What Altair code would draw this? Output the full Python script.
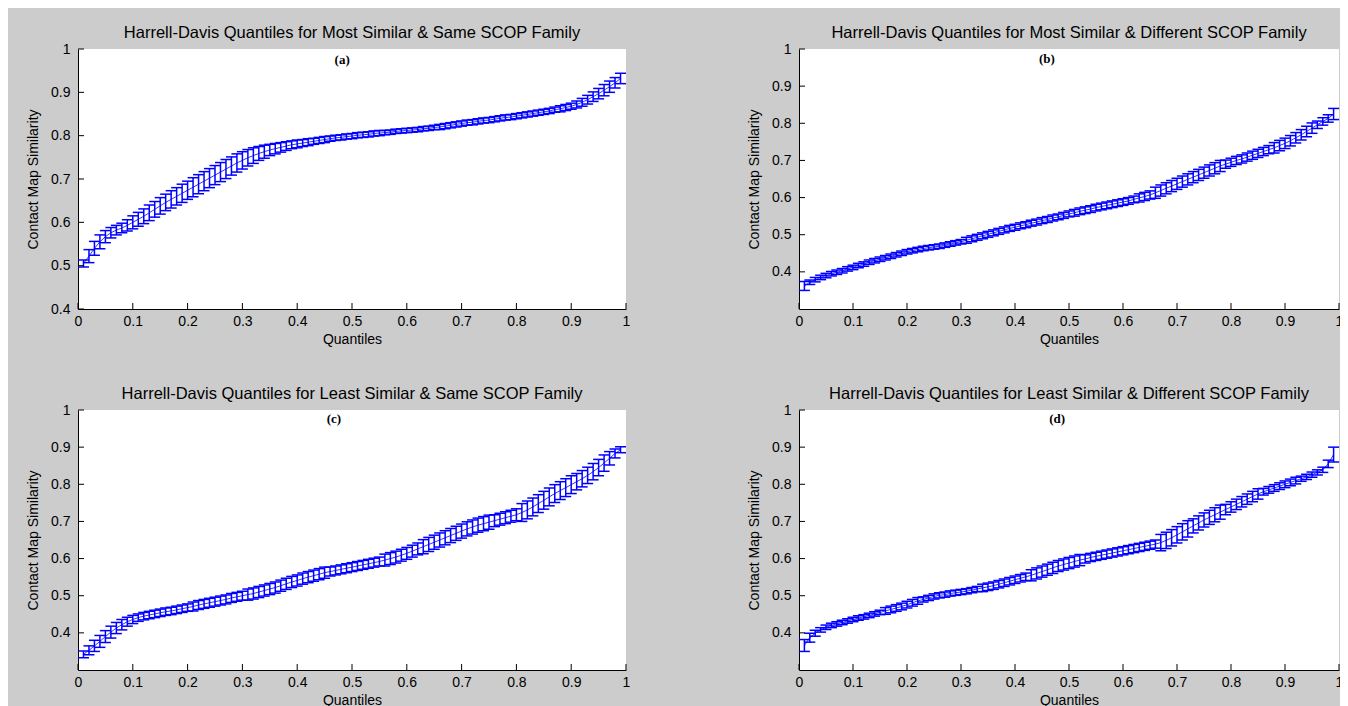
import altair as alt
import pandas as pd

BLUE = "#0000ff"
FONT = "Liberation Sans"

QUANT = [0.01, 0.02, 0.03, 0.04, 0.05, 0.06, 0.07, 0.08, 0.09, 0.10,
         0.11, 0.12, 0.13, 0.14, 0.15, 0.16, 0.17, 0.18, 0.19, 0.20,
         0.21, 0.22, 0.23, 0.24, 0.25, 0.26, 0.27, 0.28, 0.29, 0.30,
         0.31, 0.32, 0.33, 0.34, 0.35, 0.36, 0.37, 0.38, 0.39, 0.40,
         0.41, 0.42, 0.43, 0.44, 0.45, 0.46, 0.47, 0.48, 0.49, 0.50,
         0.51, 0.52, 0.53, 0.54, 0.55, 0.56, 0.57, 0.58, 0.59, 0.60,
         0.61, 0.62, 0.63, 0.64, 0.65, 0.66, 0.67, 0.68, 0.69, 0.70,
         0.71, 0.72, 0.73, 0.74, 0.75, 0.76, 0.77, 0.78, 0.79, 0.80,
         0.81, 0.82, 0.83, 0.84, 0.85, 0.86, 0.87, 0.88, 0.89, 0.90,
         0.91, 0.92, 0.93, 0.94, 0.95, 0.96, 0.97, 0.98, 0.99]

X_TICKS = [0, 0.1, 0.2, 0.3, 0.4, 0.5, 0.6, 0.7, 0.8, 0.9, 1]
Y_TICKS = [0.4, 0.5, 0.6, 0.7, 0.8, 0.9, 1]

TITLES = [
    "Harrell-Davis Quantiles for Most Similar & Same SCOP Family",
    "Harrell-Davis Quantiles for Most Similar & Different SCOP Family",
    "Harrell-Davis Quantiles for Least Similar & Same SCOP Family",
    "Harrell-Davis Quantiles for Least Similar & Different SCOP Family",
]
PANEL_LABELS = ["(a)", "(b)", "(c)", "(d)"]
PANEL_LABEL_X = [0.482, 0.459, 0.467, 0.478]
PANEL_LABEL_Y = [0.975, 0.973, 0.976, 0.976]
Y_DOMAINS = [[0.4, 1.0], [0.3, 1.0], [0.3, 1.0], [0.3, 1.0]]

mid_a = [0.505, 0.522, 0.540, 0.555, 0.567, 0.576, 0.582, 0.587, 0.593, 0.600,
         0.607, 0.614, 0.622, 0.630, 0.638, 0.646, 0.653, 0.660, 0.667, 0.674,
         0.681, 0.688, 0.695, 0.702, 0.709, 0.716, 0.723, 0.730, 0.737, 0.743,
         0.749, 0.754, 0.759, 0.763, 0.767, 0.770, 0.773, 0.776, 0.779, 0.781,
         0.783, 0.785, 0.787, 0.789, 0.791, 0.793, 0.795, 0.796, 0.798, 0.799,
         0.801, 0.802, 0.803, 0.805, 0.806, 0.807, 0.808, 0.810, 0.811, 0.812,
         0.813, 0.814, 0.816, 0.817, 0.819, 0.820, 0.822, 0.824, 0.826, 0.828,
         0.830, 0.831, 0.833, 0.835, 0.836, 0.838, 0.840, 0.842, 0.843, 0.845,
         0.847, 0.849, 0.851, 0.853, 0.855, 0.857, 0.860, 0.862, 0.865, 0.868,
         0.872, 0.877, 0.883, 0.890, 0.897, 0.905, 0.913, 0.922, 0.932]
err_a = [0.008, 0.015, 0.016, 0.016, 0.014, 0.012, 0.011, 0.011, 0.013, 0.015,
         0.016, 0.017, 0.018, 0.018, 0.019, 0.019, 0.020, 0.020, 0.021, 0.021,
         0.022, 0.022, 0.022, 0.022, 0.022, 0.022, 0.022, 0.021, 0.021, 0.020,
         0.019, 0.018, 0.016, 0.015, 0.013, 0.012, 0.011, 0.010, 0.009, 0.009,
         0.008, 0.008, 0.007, 0.007, 0.007, 0.006, 0.006, 0.006, 0.006, 0.006,
         0.006, 0.006, 0.006, 0.006, 0.006, 0.005, 0.005, 0.005, 0.005, 0.005,
         0.005, 0.005, 0.005, 0.005, 0.005, 0.006, 0.006, 0.006, 0.006, 0.006,
         0.006, 0.006, 0.006, 0.006, 0.006, 0.006, 0.006, 0.006, 0.006, 0.006,
         0.006, 0.006, 0.006, 0.006, 0.006, 0.006, 0.006, 0.007, 0.007, 0.007,
         0.008, 0.009, 0.010, 0.011, 0.012, 0.013, 0.013, 0.012, 0.012]

mid_b = [0.362, 0.372, 0.379, 0.385, 0.390, 0.395, 0.399, 0.403, 0.408, 0.412,
         0.417, 0.421, 0.426, 0.430, 0.434, 0.438, 0.442, 0.446, 0.450, 0.454,
         0.457, 0.460, 0.463, 0.465, 0.467, 0.469, 0.472, 0.475, 0.478, 0.481,
         0.485, 0.489, 0.493, 0.497, 0.501, 0.505, 0.509, 0.513, 0.517, 0.520,
         0.524, 0.527, 0.531, 0.534, 0.538, 0.541, 0.545, 0.548, 0.552, 0.556,
         0.559, 0.563, 0.566, 0.569, 0.573, 0.576, 0.579, 0.582, 0.585, 0.588,
         0.591, 0.595, 0.599, 0.603, 0.607, 0.613, 0.619, 0.625, 0.631, 0.637,
         0.643, 0.649, 0.655, 0.661, 0.667, 0.673, 0.679, 0.685, 0.690, 0.695,
         0.700, 0.704, 0.709, 0.714, 0.719, 0.724, 0.729, 0.734, 0.740, 0.746,
         0.753, 0.761, 0.769, 0.778, 0.787, 0.796, 0.805, 0.813, 0.825]
err_b = [0.012, 0.006, 0.006, 0.006, 0.006, 0.006, 0.006, 0.006, 0.006, 0.006,
         0.006, 0.006, 0.006, 0.006, 0.006, 0.006, 0.006, 0.006, 0.006, 0.006,
         0.006, 0.006, 0.006, 0.006, 0.006, 0.006, 0.006, 0.006, 0.006, 0.006,
         0.008, 0.008, 0.008, 0.008, 0.008, 0.008, 0.008, 0.008, 0.008, 0.008,
         0.008, 0.008, 0.008, 0.008, 0.008, 0.008, 0.008, 0.008, 0.008, 0.008,
         0.009, 0.009, 0.009, 0.009, 0.009, 0.009, 0.009, 0.009, 0.009, 0.009,
         0.009, 0.009, 0.011, 0.011, 0.011, 0.015, 0.015, 0.015, 0.015, 0.015,
         0.015, 0.015, 0.015, 0.015, 0.015, 0.015, 0.015, 0.015, 0.011, 0.011,
         0.011, 0.011, 0.011, 0.011, 0.011, 0.011, 0.011, 0.014, 0.014, 0.014,
         0.014, 0.014, 0.014, 0.014, 0.014, 0.010, 0.010, 0.010, 0.015]

mid_c = [0.342, 0.353, 0.365, 0.377, 0.390, 0.402, 0.413, 0.422, 0.430, 0.436,
         0.441, 0.445, 0.448, 0.451, 0.454, 0.457, 0.459, 0.462, 0.465, 0.468,
         0.471, 0.475, 0.478, 0.481, 0.484, 0.487, 0.490, 0.494, 0.497, 0.500,
         0.503, 0.506, 0.510, 0.514, 0.518, 0.522, 0.527, 0.532, 0.537, 0.541,
         0.546, 0.550, 0.554, 0.558, 0.562, 0.565, 0.568, 0.571, 0.574, 0.577,
         0.580, 0.583, 0.586, 0.589, 0.592, 0.596, 0.600, 0.604, 0.609, 0.614,
         0.620, 0.626, 0.632, 0.638, 0.644, 0.650, 0.656, 0.662, 0.668, 0.674,
         0.680, 0.685, 0.690, 0.694, 0.698, 0.702, 0.706, 0.710, 0.714, 0.718,
         0.724, 0.731, 0.739, 0.748, 0.757, 0.766, 0.775, 0.783, 0.791, 0.799,
         0.807, 0.815, 0.824, 0.834, 0.845, 0.857, 0.870, 0.883, 0.893]
err_c = [0.009, 0.012, 0.015, 0.016, 0.016, 0.016, 0.015, 0.014, 0.012, 0.011,
         0.010, 0.010, 0.010, 0.010, 0.010, 0.010, 0.010, 0.010, 0.010, 0.010,
         0.012, 0.012, 0.012, 0.012, 0.012, 0.012, 0.012, 0.012, 0.012, 0.012,
         0.015, 0.015, 0.015, 0.015, 0.015, 0.015, 0.015, 0.015, 0.015, 0.015,
         0.015, 0.015, 0.015, 0.015, 0.015, 0.012, 0.012, 0.012, 0.012, 0.012,
         0.012, 0.012, 0.012, 0.012, 0.012, 0.016, 0.016, 0.016, 0.016, 0.016,
         0.016, 0.016, 0.019, 0.019, 0.019, 0.019, 0.019, 0.019, 0.019, 0.019,
         0.019, 0.019, 0.019, 0.019, 0.019, 0.016, 0.016, 0.016, 0.016, 0.016,
         0.024, 0.024, 0.024, 0.024, 0.024, 0.024, 0.024, 0.024, 0.024, 0.024,
         0.022, 0.022, 0.022, 0.022, 0.022, 0.022, 0.018, 0.012, 0.008]

mid_d = [0.366, 0.387, 0.399, 0.408, 0.415, 0.420, 0.424, 0.428, 0.432, 0.436,
         0.440, 0.443, 0.447, 0.451, 0.455, 0.459, 0.463, 0.467, 0.471, 0.476,
         0.481, 0.486, 0.490, 0.494, 0.498, 0.501, 0.503, 0.506, 0.508, 0.510,
         0.512, 0.515, 0.518, 0.521, 0.524, 0.527, 0.531, 0.535, 0.539, 0.543,
         0.547, 0.551, 0.555, 0.560, 0.565, 0.570, 0.575, 0.580, 0.584, 0.588,
         0.592, 0.596, 0.599, 0.603, 0.606, 0.609, 0.612, 0.615, 0.618, 0.621,
         0.624, 0.627, 0.630, 0.633, 0.636, 0.639, 0.643, 0.649, 0.656, 0.664,
         0.672, 0.680, 0.688, 0.696, 0.704, 0.711, 0.718, 0.725, 0.732, 0.739,
         0.746, 0.753, 0.760, 0.767, 0.774, 0.780, 0.785, 0.790, 0.795, 0.800,
         0.805, 0.810, 0.815, 0.820, 0.826, 0.832, 0.839, 0.855, 0.880]
err_d = [0.016, 0.012, 0.008, 0.006, 0.006, 0.006, 0.006, 0.006, 0.006, 0.006,
         0.006, 0.006, 0.006, 0.006, 0.006, 0.009, 0.009, 0.009, 0.009, 0.009,
         0.009, 0.009, 0.007, 0.007, 0.007, 0.007, 0.007, 0.007, 0.007, 0.007,
         0.007, 0.007, 0.007, 0.010, 0.010, 0.010, 0.010, 0.010, 0.010, 0.010,
         0.010, 0.010, 0.015, 0.015, 0.015, 0.015, 0.015, 0.015, 0.015, 0.015,
         0.015, 0.015, 0.011, 0.011, 0.011, 0.011, 0.011, 0.011, 0.011, 0.011,
         0.011, 0.011, 0.011, 0.011, 0.011, 0.011, 0.022, 0.022, 0.022, 0.022,
         0.022, 0.022, 0.019, 0.019, 0.019, 0.019, 0.019, 0.019, 0.014, 0.014,
         0.014, 0.014, 0.014, 0.014, 0.014, 0.009, 0.009, 0.009, 0.009, 0.009,
         0.009, 0.009, 0.007, 0.007, 0.007, 0.007, 0.007, 0.010, 0.020]

MIDS = [mid_a, mid_b, mid_c, mid_d]
ERRS = [err_a, err_b, err_c, err_d]


def panel(i, w, h):
    df = pd.DataFrame({"q": QUANT, "mid": MIDS[i], "err": ERRS[i]})
    df["lo"] = df["mid"] - df["err"]
    df["hi"] = df["mid"] + df["err"]

    xs = alt.Scale(domain=[0, 1], nice=False, zero=False)
    ys = alt.Scale(domain=Y_DOMAINS[i], nice=False, zero=False)
    xax = alt.Axis(values=X_TICKS, format="~g", title="Quantiles", grid=False,
                   ticks=False, tickSize=0, domainColor="black", domainWidth=1,
                   labelFont=FONT, labelFontSize=14, labelColor="black",
                   labelPadding=5, labelFlush=False, labelOverlap=False,
                   titleFont=FONT, titleFontSize=14, titleFontWeight="normal",
                   titleColor="black", titleX=w / 2, titleY=34,
                   titleAlign="center", titleBaseline="alphabetic")
    yax = alt.Axis(values=Y_TICKS, format="~g", title="Contact Map Similarity",
                   grid=False, ticks=False, tickSize=0, domainColor="black",
                   domainWidth=1, labelFont=FONT, labelFontSize=14,
                   labelColor="black", labelPadding=8, labelFlush=False,
                   labelOverlap=False, titleFont=FONT, titleFontSize=14,
                   titleFontWeight="normal", titleColor="black", titleX=-41,
                   titleY=h / 2, titleAngle=270, titleAlign="center",
                   titleBaseline="alphabetic")

    base = alt.Chart(df)
    bars = base.mark_rule(color=BLUE, strokeWidth=1.5).encode(
        x=alt.X("q:Q", scale=xs, axis=xax),
        y=alt.Y("lo:Q", scale=ys, axis=yax),
        y2="hi:Q",
    )
    cap_lo = base.mark_tick(orient="horizontal", size=11, thickness=1.5,
                            color=BLUE, opacity=1).encode(
        x=alt.X("q:Q", scale=xs, axis=xax),
        y=alt.Y("lo:Q", scale=ys, axis=yax),
    )
    cap_hi = base.mark_tick(orient="horizontal", size=11, thickness=1.5,
                            color=BLUE, opacity=1).encode(
        x=alt.X("q:Q", scale=xs, axis=xax),
        y=alt.Y("hi:Q", scale=ys, axis=yax),
    )
    line = base.mark_line(color=BLUE, strokeWidth=0.8).encode(
        x=alt.X("q:Q", scale=xs, axis=xax),
        y=alt.Y("mid:Q", scale=ys, axis=yax),
    )
    xt = alt.Chart(pd.DataFrame({"v": X_TICKS})).mark_rule(
        color="black", strokeWidth=1).encode(
        x=alt.X("v:Q", scale=xs, axis=xax),
        y=alt.value(h), y2=alt.value(h - 6),
    )
    yt = alt.Chart(pd.DataFrame({"v": Y_TICKS})).mark_rule(
        color="black", strokeWidth=1).encode(
        y=alt.Y("v:Q", scale=ys, axis=yax),
        x=alt.value(0), x2=alt.value(6),
    )
    lab = alt.Chart(pd.DataFrame({"x": [PANEL_LABEL_X[i]],
                                  "y": [PANEL_LABEL_Y[i]],
                                  "t": [PANEL_LABELS[i]]})).mark_text(
        font="Liberation Serif", fontWeight="bold", fontSize=13,
        color="black", baseline="middle", align="center").encode(
        x=alt.X("x:Q", scale=xs, axis=xax),
        y=alt.Y("y:Q", scale=ys, axis=yax),
        text="t:N",
    )
    ttl = alt.Chart(pd.DataFrame({"t": [TITLES[i]]})).mark_text(
        font=FONT, fontSize=16.5, color="black", baseline="alphabetic",
        align="center").encode(
        x=alt.value(w / 2), y=alt.value(-11), text="t:N",
    )
    return alt.layer(bars, cap_lo, cap_hi, line, xt, yt, lab, ttl).properties(
        width=w, height=h,
    )


chart = alt.concat(
    panel(0, 548, 260), panel(1, 540, 260),
    panel(2, 548, 260), panel(3, 540, 260),
    columns=2, spacing={"row": 101, "column": 173}, bounds="flush",
).properties(
    autosize=alt.AutoSizeParams(type="none"),
    padding={"left": 70, "top": 41, "right": 1262, "bottom": 657},
    background="#cccccc",
).configure_view(stroke=None, fill="white")

chart.save("out.html", embed_options={"renderer": "svg", "actions": False})
